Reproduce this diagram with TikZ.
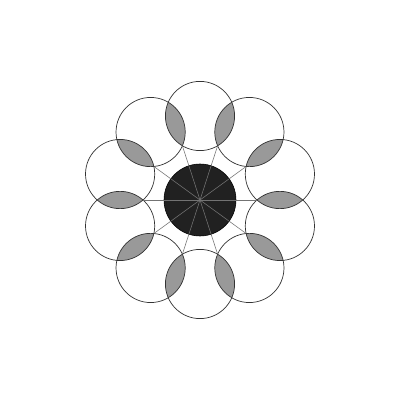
\documentclass[tikz,border=0pt]{standalone}
\usepackage{tkz-euclide}
\tikzset{lens/.style={fill=black!40},
    petal/.style={draw=black!80,line width=.5pt},
    spoke/.style={draw=black!55,line width=.4pt}
}

\begin{document}
\begin{tikzpicture}
        \useasboundingbox (-5,-5) rectangle (5,5);
        \tkzDefPoint(0,0){O}
        \foreach \i in {0,...,9}{
            \pgfmathsetmacro\a{90+36*\i}
            \pgfmathsetmacro\b{36*\i}
            \tkzDefPoint(\a:2.1){C\i}
            \tkzDefPoint(\b:1.425){S\i}
        }
        % shaded overlaps
        \foreach \i [evaluate=\i as \j using {int(mod(\i+1,10))}] in {0,...,9}{
            \begin{scope}
                \clip (C\i) circle (.865);
                \fill[lens] (C\j) circle (.865);
            \end{scope}
        }
        \foreach \i in {0,...,9}{\draw[petal] (C\i) circle (.865);}
        \filldraw[fill=black!87,draw=black] (O) circle (.9);
        \foreach \i in {0,...,9}{\draw[spoke] (O) -- (S\i);}
    \end{tikzpicture}
\end{document}
